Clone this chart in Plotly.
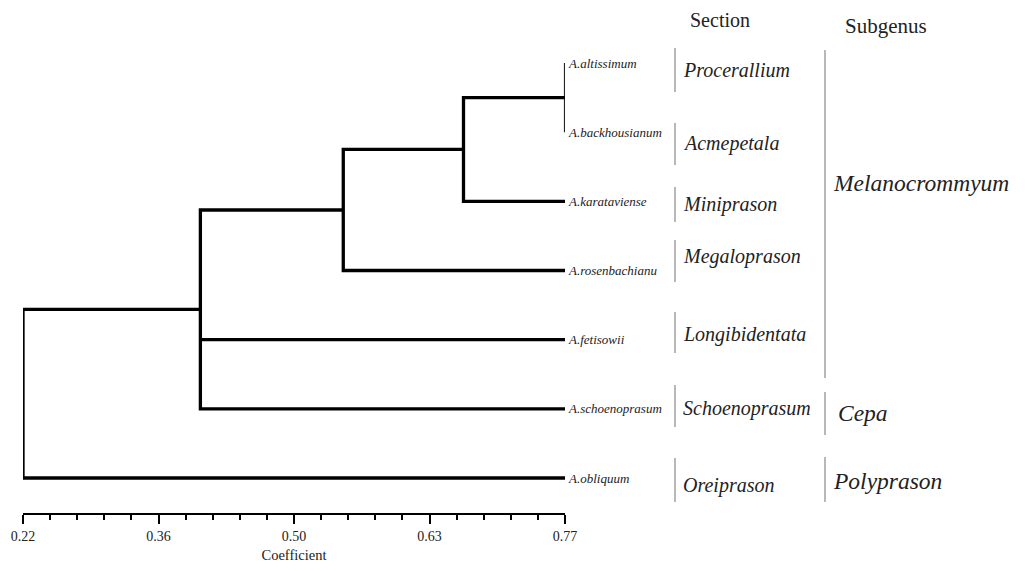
import plotly.graph_objects as go

# ---------------- data ----------------
leaves = ["A.altissimum", "A.backhousianum", "A.karataviense", "A.rosenbachianu",
          "A.fetisowii", "A.schoenoprasum", "A.obliquum"]
# clusters (children refer to leaf names or earlier cluster ids "c0", "c1", ...)
merge_children = [
    ["A.altissimum", "A.backhousianum"],
    ["c0", "A.karataviense"],
    ["c1", "A.rosenbachianu"],
    ["c2", "A.fetisowii", "A.schoenoprasum"],
    ["c3", "A.obliquum"],
]
merge_height = [0.77, 0.667, 0.545, 0.40, 0.22]
leaf_height = 0.77

sections = ["Procerallium", "Acmepetala", "Miniprason", "Megaloprason",
            "Longibidentata", "Schoenoprasum", "Oreiprason"]
subgenera = ["Melanocrommyum", "Cepa", "Polyprason"]

tick_vals = [0.22, 0.3575, 0.495, 0.6325, 0.77]
tick_text = ["0.22", "0.36", "0.50", "0.63", "0.77"]

# ---------------- layout constants (screen pixels) ----------------
OFF = 8                      # default page body margin
SW, SH = 1025, 571           # screen size
W, H = SW - OFF, SH - OFF    # figure size
PL, PR, PT, PB = 23, 565, 10, 513   # plot area on screen
L, T = PL - OFF, PT - OFF
R = W - (PR - OFF)
B = H - (PB - OFF)
plot_w = W - L - R
plot_h = H - T - B
leaf_px0, leaf_step = 63.0, 69.17
y_top = -(leaf_px0 - PT) / leaf_step
y_bot = (PB - leaf_px0) / leaf_step

def px2paper_x(px):
    return (px - PL) / plot_w

def px2paper_y(py):
    return (PB - py) / plot_h

SERIF = "Liberation Serif"

# ---------------- build dendrogram ----------------
pos = {name: (leaf_height, i) for i, name in enumerate(leaves)}
fig = go.Figure()
for k, (children, h) in enumerate(zip(merge_children, merge_height)):
    ch = [pos[c] for c in children]
    ys = [c[1] for c in ch]
    ymin, ymax = min(ys), max(ys)
    top = ch[ys.index(ymin)]
    bot = ch[ys.index(ymax)]
    if all(abs(c[0] - h) < 1e-9 for c in ch):
        fig.add_trace(go.Scatter(x=[h, h], y=[ymin, ymax], mode="lines",
                                 line=dict(color="#222", width=2.2),
                                 cliponaxis=False, hoverinfo="skip", showlegend=False))
    else:
        fig.add_trace(go.Scatter(x=[top[0], h, h, bot[0]], y=[top[1], top[1], bot[1], bot[1]],
                                 mode="lines", line=dict(color="black", width=3.3),
                                 cliponaxis=False, hoverinfo="skip", showlegend=False))
        for c in ch:
            if c is top or c is bot:
                continue
            fig.add_trace(go.Scatter(x=[h, c[0]], y=[c[1], c[1]], mode="lines",
                                     line=dict(color="black", width=3.3),
                                     cliponaxis=False, hoverinfo="skip", showlegend=False))
    pos["c%d" % k] = (h, (ymin + ymax) / 2)

annotations = []
for i, name in enumerate(leaves):
    annotations.append(dict(x=leaf_height, y=i, xref="x", yref="y", text=name,
                            xanchor="left", yanchor="middle", xshift=1, showarrow=False,
                            font=dict(family=SERIF, size=13, color="#222", style="italic")))

# right-hand classification (layout positions, screen pixels)
section_text_y = [70, 143, 205, 256, 335, 408, 485]
section_line_y = [(48, 92), (123, 165), (187, 222), (240, 282), (312, 353), (385, 427), (458, 502)]
sub_text_pos = [(831, 183), (836, 413), (831, 481)]
sub_line_y = [(50, 378), (392, 435), (457, 502)]

shapes = []
for name, ty, (y0, y1) in zip(sections, section_text_y, section_line_y):
    annotations.append(dict(x=px2paper_x(681), y=px2paper_y(ty), xref="paper", yref="paper",
                            text=name, xanchor="left", yanchor="middle", showarrow=False,
                            font=dict(family=SERIF, size=20, color="#222", style="italic")))
    shapes.append(dict(type="line", xref="paper", yref="paper",
                       x0=px2paper_x(675), x1=px2paper_x(675),
                       y0=px2paper_y(y0), y1=px2paper_y(y1),
                       line=dict(color="#888", width=1.2)))
for name, (tx, ty), (y0, y1) in zip(subgenera, sub_text_pos, sub_line_y):
    annotations.append(dict(x=px2paper_x(tx), y=px2paper_y(ty), xref="paper", yref="paper",
                            text=name, xanchor="left", yanchor="middle", showarrow=False,
                            font=dict(family=SERIF, size=23.5, color="#222", style="italic")))
    shapes.append(dict(type="line", xref="paper", yref="paper",
                       x0=px2paper_x(825), x1=px2paper_x(825),
                       y0=px2paper_y(y0), y1=px2paper_y(y1),
                       line=dict(color="#888", width=1.2)))

annotations.append(dict(x=px2paper_x(688), y=px2paper_y(20), xref="paper", yref="paper",
                        text="Section", xanchor="left", yanchor="middle", showarrow=False,
                        font=dict(family=SERIF, size=20, color="#222")))
annotations.append(dict(x=px2paper_x(843), y=px2paper_y(26), xref="paper", yref="paper",
                        text="Subgenus", xanchor="left", yanchor="middle", showarrow=False,
                        font=dict(family=SERIF, size=21, color="#222")))

fig.update_layout(
    width=W, height=H,
    margin=dict(l=L, r=R, t=T, b=B),
    paper_bgcolor="white", plot_bgcolor="white",
    annotations=annotations, shapes=shapes,
    xaxis=dict(range=[0.22, 0.77], showgrid=False, zeroline=False,
               showline=True, linecolor="black", linewidth=2,
               tickmode="array", tickvals=tick_vals, ticktext=tick_text,
               ticks="outside", ticklen=9, tickwidth=1.5, tickcolor="black",
               minor=dict(tick0=0.22, dtick=0.0275, ticks="outside", ticklen=5,
                          tickwidth=1.5, tickcolor="black", showgrid=False),
               tickfont=dict(family=SERIF, size=14, color="#222"),
               title=dict(text="Coefficient", font=dict(family=SERIF, size=14.5, color="#222"),
                          standoff=7)),
    yaxis=dict(range=[y_bot, y_top], visible=False, showgrid=False, zeroline=False),
)

fig.write_html("out.html")
